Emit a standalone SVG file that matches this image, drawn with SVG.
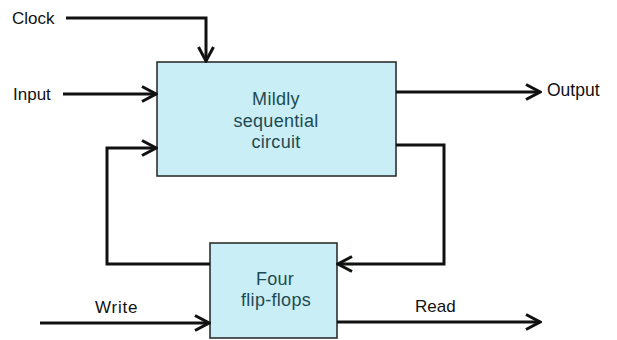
<svg xmlns="http://www.w3.org/2000/svg" width="617" height="340" viewBox="0 0 617 340">
<defs>
<style>
.box{fill:#c9eef5;stroke:#222;stroke-width:1.5}
.lbl{font-family:"Liberation Sans",Arial,sans-serif;font-size:17px;fill:#111}
.inner{font-family:"Liberation Sans",Arial,sans-serif;font-size:18px;letter-spacing:0.3px;fill:#1d4a52;text-anchor:middle}
.wire{fill:none;stroke:#111;stroke-width:3}
</style>
<marker id="arr" viewBox="0 0 18 18" refX="16" refY="9" markerWidth="18" markerHeight="18" markerUnits="userSpaceOnUse" orient="auto">
<path d="M2,1.5 L16,9 L2,16.5" fill="none" stroke="#111" stroke-width="3"/>
</marker>
</defs>
<rect width="617" height="340" fill="#fff"/>
<g id="circuit">
<rect class="box" x="157" y="62" width="239" height="114"/>
<text class="inner" x="276" y="105">Mildly</text>
<text class="inner" x="276" y="127">sequential</text>
<text class="inner" x="276" y="148">circuit</text>
</g>
<g id="flipflops">
<rect class="box" x="210" y="243" width="127" height="95"/>
<text class="inner" x="275" y="285">Four</text>
<text class="inner" x="276" y="306">flip-flops</text>
</g>
<g id="labels">
<text class="lbl" x="12" y="24">Clock</text>
<text class="lbl" x="13" y="100">Input</text>
<text class="lbl" x="547" y="96" style="font-size:17.5px">Output</text>
<text class="lbl" x="95" y="313" style="letter-spacing:0.8px">Write</text>
<text class="lbl" x="415" y="312">Read</text>
</g>
<g id="connectors">
<path class="wire" d="M66,18 H206 V61" marker-end="url(#arr)"/>
<path class="wire" d="M63,94 H156" marker-end="url(#arr)"/>
<path class="wire" d="M396,92 H540" marker-end="url(#arr)"/>
<path class="wire" d="M210,264 H107 V148 H156" marker-end="url(#arr)"/>
<path class="wire" d="M396,145 H444 V264 H338" marker-end="url(#arr)"/>
<path class="wire" d="M40,323 H209" marker-end="url(#arr)"/>
<path class="wire" d="M337,322 H540" marker-end="url(#arr)"/>
</g>
</svg>
